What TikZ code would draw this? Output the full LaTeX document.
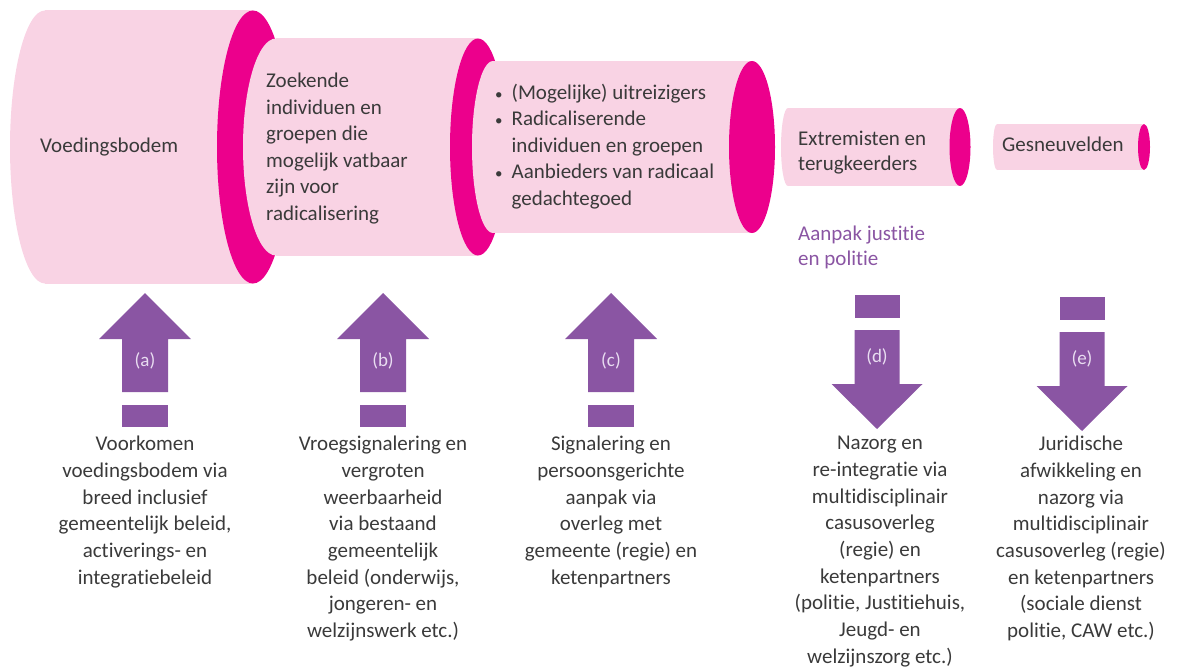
\documentclass[tikz,border=0pt]{standalone}
\usepackage{fontspec}
\setmainfont{Carlito}[Ligatures=NoCommon]
\definecolor{tubepink}{HTML}{F9D3E4}
\definecolor{tubemagenta}{HTML}{EC008C}
\definecolor{arrowpurple}{HTML}{8A55A3}
\definecolor{textgrey}{HTML}{3A3A3A}
\definecolor{labellilac}{HTML}{E9DDF1}
\tikzset{
  tubetext/.style={anchor=north west, align=left, text=textgrey, inner sep=0pt,
    font=\fontsize{21}{26.5}\selectfont, execute at begin node=\strut},
  steptext/.style={anchor=north, align=center, text=textgrey, inner sep=0pt,
    font=\fontsize{21}{26.7}\selectfont, execute at begin node=\strut},
  arrowlabel/.style={text=labellilac, inner sep=0pt, font=\fontsize{19}{20}\selectfont},
}
% #1 left end, #2 right end, #3 half height, #4 left x radius, #5 right x radius
\newcommand{\tube}[5]{%
  \fill[tubepink] (#1,147) ellipse [x radius=#4, y radius=#3];
  \fill[tubepink] (#1,147-#3) rectangle (#2,147+#3);
  \fill[tubemagenta] (#2,147) ellipse [x radius=#5, y radius=#3];
}
\newcommand{\blt}{{\fontsize{15}{15}\selectfont •}}
\begin{document}
\begin{tikzpicture}[x=1pt,y=-1pt]
\useasboundingbox (0,0) rectangle (1178,669);

% tubes, widest first
\tube{45}{253}{136.5}{35}{36}
\tube{276}{478}{108.5}{33}{28}
\tube{493}{752}{86}{21}{23}
\tube{788}{960}{39}{7}{10.5}
\tube{997}{1144}{23}{4}{6}

\node[tubetext] (voeding) at (40,133.5) {Voedingsbodem};
\node[tubetext] (zoekend) at (266,73) {Zoekende\\individuen en\\groepen die\\mogelijk vatbaar\\zijn voor\\radicalisering};
\node[tubetext, execute at begin node={}] (uitreis) at (495,80.5) {%
  \begin{tabular}{@{}l@{\hspace{9pt}}l@{}}
  \blt & (Mogelijke) uitreizigers\\
  \blt & Radicaliserende\\
       & individuen en groepen\\
  \blt & Aanbieders van radicaal\\
       & gedachtegoed
  \end{tabular}};
\node[tubetext, font=\fontsize{21}{25}\selectfont] (extrem) at (798,131) {Extremisten en\\terugkeerders};
\node[tubetext] (gesneuv) at (1002,132.5) {Gesneuvelden};
\node[tubetext, text=arrowpurple, font=\fontsize{21}{25}\selectfont] (justitie) at (798,226) {Aanpak justitie\\en politie};

% arrows up
\foreach \cx/\lab in {145/a,383/b,611/c}{
  \fill[arrowpurple] (\cx,293) -- (\cx+46,339) -- (\cx+23,339) -- (\cx+23,392)
    -- (\cx-23,392) -- (\cx-23,339) -- (\cx-46,339) -- cycle;
  \fill[arrowpurple] (\cx-23,405) rectangle (\cx+23,427);
  \node[arrowlabel] (lab-\lab) at (\cx,361) {(\lab)};
}
% arrows down
\foreach \cx/\dy/\lab in {877/0/d,1082/2/e}{
  \fill[arrowpurple] (\cx-22.5,295+\dy) rectangle (\cx+22.5,318+\dy);
  \fill[arrowpurple] (\cx-22.5,330+\dy) -- (\cx+22.5,330+\dy) -- (\cx+22.5,384+\dy)
    -- (\cx+45.5,384+\dy) -- (\cx,429+\dy) -- (\cx-45.5,384+\dy) -- (\cx-22.5,384+\dy) -- cycle;
  \node[arrowlabel] (lab-\lab) at (\cx,357+\dy) {(\lab)};
}

\node[steptext] (stap-a) at (145,436) {Voorkomen\\voedingsbodem via\\breed inclusief\\gemeentelijk beleid,\\activerings- en\\integratiebeleid};
\node[steptext] (stap-b) at (383,436) {Vroegsignalering en\\vergroten\\weerbaarheid\\via bestaand\\gemeentelijk\\beleid (onderwijs,\\jongeren- en\\welzijnswerk etc.)};
\node[steptext] (stap-c) at (611,436) {Signalering en\\persoonsgerichte\\aanpak via\\overleg met\\gemeente (regie) en\\ketenpartners};
\node[steptext] (stap-d) at (880,436) {Nazorg en\\re-integratie via\\multidisciplinair\\casusoverleg\\(regie) en\\ketenpartners\\(politie, Justitiehuis,\\Jeugd- en\\welzijnszorg etc.)};
\node[steptext] (stap-e) at (1081,436) {Juridische\\afwikkeling en\\nazorg via\\multidisciplinair\\casusoverleg (regie)\\en ketenpartners\\(sociale dienst\\politie, CAW etc.)};

\end{tikzpicture}
\end{document}
